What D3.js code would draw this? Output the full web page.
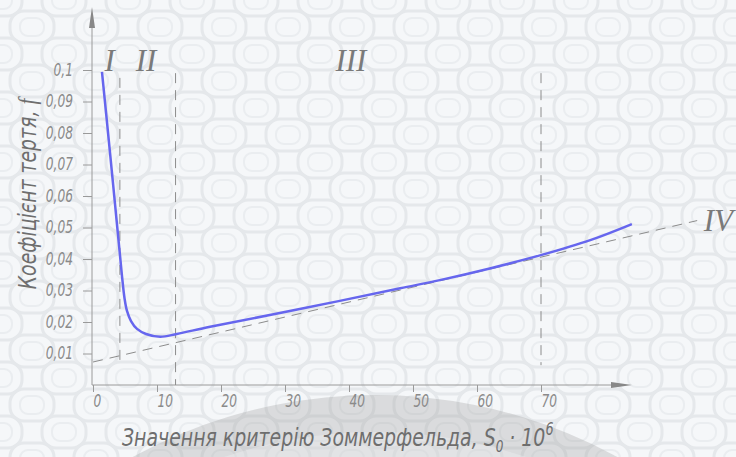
<!DOCTYPE html>
<html>
<head>
<meta charset="utf-8">
<script src="https://cdn.jsdelivr.net/npm/d3@7"></script>
<style>
  body { margin: 0; background: #f4f6f8; }
  svg { display: block; }
  .tick text { font-family: "DejaVu Sans Condensed", "DejaVu Sans", sans-serif; font-style: italic; font-weight: 300; fill: #8a8a8a; }
</style>
</head>
<body>
<svg id="chart" width="736" height="457"></svg>
<script>
// curve: Sommerfeld number S0*10^6 vs friction coefficient f
var sValues = [1.4, 2.66, 3.91, 4.53, 4.92, 5.31, 5.94, 6.88, 8.28, 10.5, 13.1, 18.3, 32.3, 48.0, 54.2, 62.0, 70.1, 77.7, 84.2];
var fValues = [0.0994, 0.0737, 0.0476, 0.0346, 0.0276, 0.0235, 0.0203, 0.0178, 0.0162, 0.0153, 0.0162, 0.0185, 0.0241, 0.0307, 0.0333, 0.0370, 0.0413, 0.0460, 0.0511];

// asymptote IV (dashed)
var asymS = [0, 94.4];
var asymF = [0.0073, 0.0522];

// zone borders
var borderS = [4.2, 12.9, 70];
var borderTop = [0.0975, 0.099, 0.099];
var borderBottom = [0.0063, 0, 0.0063];

// zone names
var zoneNames = ["I", "II", "III", "IV"];
var zoneS = [2.6, 8.3, 40.3, 97.7];
var zoneF = [0.0997, 0.0997, 0.0997, 0.0489];

var xTicks = [0, 10, 20, 30, 40, 50, 60, 70];
var yTicks = [0.01, 0.02, 0.03, 0.04, 0.05, 0.06, 0.07, 0.08, 0.09, 0.1];

var svg = d3.select("#chart");

// background pattern
var defs = svg.append("defs");
var pat = defs.append("pattern")
  .attr("id", "bgpat")
  .attr("patternUnits", "userSpaceOnUse")
  .attr("width", 64).attr("height", 54);
pat.append("rect").attr("width", 64).attr("height", 54).attr("fill", "#f5f7f9");
[[0, 0], [64, 0], [0, 54], [64, 54], [32, 27]].forEach(function(c) {
  pat.append("rect")
    .attr("x", c[0] - 22).attr("y", c[1] - 16)
    .attr("width", 44).attr("height", 32)
    .attr("rx", 14)
    .attr("fill", "none").attr("stroke", "#e5e8eb").attr("stroke-width", 3);
  pat.append("rect")
    .attr("x", c[0] - 12).attr("y", c[1] - 9)
    .attr("width", 24).attr("height", 18)
    .attr("rx", 8)
    .attr("fill", "none").attr("stroke", "#eaedf0").attr("stroke-width", 2);
});
svg.append("rect").attr("width", 736).attr("height", 457).attr("fill", "url(#bgpat)");

// faint stamp at the bottom
svg.append("circle")
  .attr("cx", 375).attr("cy", 900).attr("r", 505)
  .attr("fill", "#9a9a9a").attr("opacity", 0.3);
svg.append("circle")
  .attr("cx", 375).attr("cy", 900).attr("r", 468)
  .attr("fill", "#f4f6f8").attr("opacity", 0.3);

var x = d3.scaleLinear().domain([0, 70]).range([93, 541]);
var y = d3.scaleLinear().domain([0, 0.1]).range([385, 70]);

var axisColor = "#9a9a9a";
var squeeze = 0.8;

// y axis
var yAxis = svg.append("g")
  .attr("transform", "translate(92,0)")
  .call(d3.axisLeft(y).tickValues(yTicks).tickSize(9).tickPadding(10)
    .tickFormat(function(d) { return String(+d.toFixed(2)).replace(".", ","); }));
yAxis.select(".domain").remove();
yAxis.selectAll(".tick line").attr("stroke", axisColor);
yAxis.selectAll(".tick text")
  .attr("x", -19 / squeeze)
  .attr("transform", "scale(" + squeeze + ",1)")
  .style("font-size", "17px");
svg.append("line")
  .attr("x1", 92).attr("y1", 385).attr("x2", 92).attr("y2", 20)
  .attr("stroke", axisColor).attr("stroke-width", 1);
svg.append("path")
  .attr("d", "M92,7 L95,28 L89,28 Z")
  .attr("fill", "#888");

// x axis
var xAxis = svg.append("g")
  .attr("transform", "translate(0,385)")
  .call(d3.axisBottom(x).tickValues(xTicks).tickSize(7).tickPadding(3));
xAxis.select(".domain").remove();
xAxis.selectAll(".tick line").attr("stroke", axisColor);
xAxis.selectAll(".tick text")
  .attr("text-anchor", "start")
  .attr("x", 0)
  .attr("transform", "scale(" + squeeze + ",1)")
  .style("font-size", "17px");
svg.append("line")
  .attr("x1", 92).attr("y1", 385).attr("x2", 620).attr("y2", 385)
  .attr("stroke", axisColor).attr("stroke-width", 1);
svg.append("path")
  .attr("d", "M632,385 L611,382 L611,388 Z")
  .attr("fill", "#888");

// zone borders
svg.selectAll(".border")
  .data(borderS)
  .enter().append("line")
  .attr("class", "border")
  .attr("x1", function(d) { return x(d); })
  .attr("x2", function(d) { return x(d); })
  .attr("y1", function(d, i) { return y(borderTop[i]); })
  .attr("y2", function(d, i) { return y(borderBottom[i]); })
  .attr("stroke", "#8c8c8c")
  .attr("stroke-width", 1)
  .attr("stroke-dasharray", "10,7");

// asymptote
svg.append("line")
  .attr("x1", x(asymS[0])).attr("y1", y(asymF[0]))
  .attr("x2", x(asymS[1])).attr("y2", y(asymF[1]))
  .attr("stroke", "#8c8c8c")
  .attr("stroke-width", 1)
  .attr("stroke-dasharray", "10,7");

// friction curve
var pts = sValues.map(function(s, i) { return [s, fValues[i]]; });
svg.append("path")
  .datum(pts)
  .attr("fill", "none")
  .attr("stroke", "#6666ee")
  .attr("stroke-width", 2.5)
  .attr("d", d3.line()
    .x(function(d) { return x(d[0]); })
    .y(function(d) { return y(d[1]); })
    .curve(d3.curveCatmullRom.alpha(0.5)));

// zone names
svg.selectAll(".zone")
  .data(zoneNames)
  .enter().append("text")
  .attr("class", "zone")
  .attr("x", function(d, i) { return x(zoneS[i]); })
  .attr("y", function(d, i) { return y(zoneF[i]); })
  .attr("text-anchor", "middle")
  .style("font-family", "'Liberation Serif', 'DejaVu Serif', serif")
  .style("font-style", "italic")
  .style("font-size", "31px")
  .style("fill", "#7a7a7a")
  .text(function(d) { return d; });

// axis titles
var titleFont = "'DejaVu Sans Condensed', 'DejaVu Sans', sans-serif";
var xt = svg.append("text")
  .attr("transform", "translate(122,446) scale(0.84,1)")
  .style("font-family", titleFont)
  .style("font-style", "italic")
  .style("font-weight", 300)
  .style("font-size", "25px")
  .style("fill", "#6e6e6e");
xt.append("tspan").text("Значення критерію Зоммерфельда, S");
xt.append("tspan").attr("dy", 6).style("font-size", "16px").text("0");
xt.append("tspan").attr("dy", -6).text(" · 10");
xt.append("tspan").attr("dy", -11).style("font-size", "17px").text("6");

var yt = svg.append("text")
  .attr("transform", "translate(36,194) rotate(-90) scale(0.84,1)")
  .attr("text-anchor", "middle")
  .style("font-family", titleFont)
  .style("font-style", "italic")
  .style("font-weight", 300)
  .style("font-size", "25px")
  .style("fill", "#6e6e6e");
yt.append("tspan").text("Коефіцієнт тертя, ");
yt.append("tspan").style("font-family", "'Liberation Serif', serif").text("f");
</script>
</body>
</html>
